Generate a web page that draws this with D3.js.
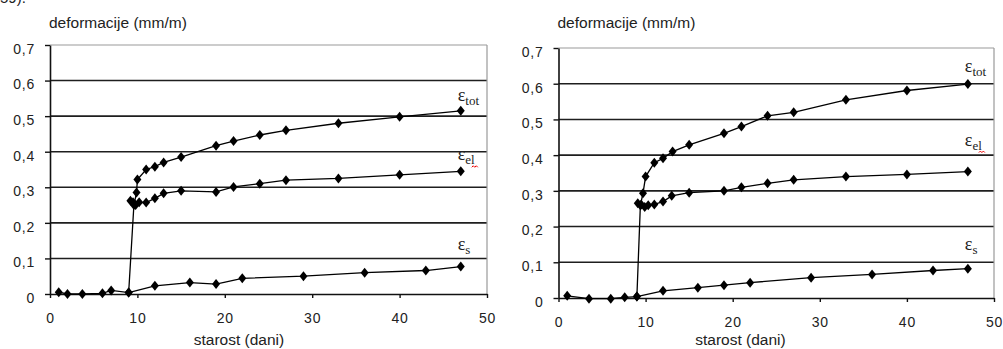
<!DOCTYPE html>
<html>
<head>
<meta charset="utf-8">
<script src="https://cdn.jsdelivr.net/npm/d3@7"></script>
<style>
  body { margin: 0; background: #fff; }
  svg { display: block; }
  text { font-family: "Liberation Sans", Arial, sans-serif; fill: #222; }
</style>
</head>
<body>
<div id="chart"></div>
<script>
// ticks
const xTicks = [0, 10, 20, 30, 40, 50];
const yTicks = [0, 0.1, 0.2, 0.3, 0.4, 0.5, 0.6, 0.7];

// left chart
const leftTotDays = [1, 2, 3.7, 6, 7, 9, 9.6, 9.9, 10, 11, 12, 13, 15, 19, 21, 24, 27, 33, 40, 47];
const leftTotVals = [0.005, 0, 0, 0.002, 0.01, 0.004, 0.25, 0.285, 0.322, 0.35, 0.358, 0.37, 0.385, 0.417, 0.43, 0.447, 0.46, 0.48, 0.498, 0.515];
const leftElDays = [9.2, 9.5, 9.8, 10.2, 11, 12, 13, 15, 19, 21, 24, 27, 33, 40, 47];
const leftElVals = [0.262, 0.258, 0.25, 0.258, 0.257, 0.269, 0.283, 0.29, 0.287, 0.301, 0.31, 0.32, 0.325, 0.335, 0.345];
const leftSDays = [9, 12, 16, 19, 22, 29, 36, 43, 47];
const leftSVals = [0.004, 0.023, 0.032, 0.028, 0.044, 0.05, 0.06, 0.066, 0.077];

// right chart
const rightTotDays = [1, 3.5, 6, 7.6, 9, 9.4, 9.7, 10, 11, 12, 13.1, 15, 19, 21, 24, 27, 33, 40, 47];
const rightTotVals = [0.006, -0.002, -0.002, 0.002, 0.004, 0.26, 0.293, 0.34, 0.379, 0.391, 0.41, 0.429, 0.461, 0.48, 0.51, 0.52, 0.555, 0.581, 0.599];
const rightElDays = [9.1, 9.5, 9.9, 10.3, 11, 12, 13, 15, 19, 21, 24, 27, 33, 40, 47];
const rightElVals = [0.265, 0.262, 0.255, 0.26, 0.262, 0.27, 0.286, 0.295, 0.3, 0.31, 0.321, 0.331, 0.34, 0.346, 0.354];
const rightSDays = [9, 12, 16, 19, 22, 29, 36, 43, 47];
const rightSVals = [0.004, 0.02, 0.029, 0.036, 0.043, 0.057, 0.066, 0.077, 0.082];

const width = 1003, height = 349;
const svg = d3.select("#chart").append("svg")
  .attr("width", width)
  .attr("height", height);

// caption text cut off at the very top, as in the scan
svg.append("text").attr("x", 0).attr("y", 3).style("font-size", "15px").text("59).");

const fmt = d => d === 0 ? "0" : d3.format(".1f")(d).replace(".", ",");
const diamond = "M0,-5L4,0L0,5L-4,0Z";

function drawChart(cfg) {
  const x = d3.scaleLinear().domain([0, 50]).range([cfg.x0, cfg.x1]);
  const y = d3.scaleLinear().domain([0, 0.7]).range([cfg.y0, cfg.y1]);
  const g = svg.append("g");

  // grid
  g.selectAll(".grid").data(yTicks.filter(v => v > 0 && v < 0.7)).enter()
    .append("line")
    .attr("x1", cfg.x0).attr("x2", cfg.x1)
    .attr("y1", d => y(d)).attr("y2", d => y(d))
    .attr("stroke", "#1e1e1e").attr("stroke-width", 1.6);
  g.append("line")
    .attr("x1", cfg.x0).attr("x2", cfg.x1)
    .attr("y1", y(0.7)).attr("y2", y(0.7))
    .attr("stroke", "#999").attr("stroke-width", 1.2);
  g.append("line")
    .attr("x1", cfg.x1).attr("x2", cfg.x1)
    .attr("y1", y(0.7)).attr("y2", y(0))
    .attr("stroke", "#999").attr("stroke-width", 1.2);

  // axes
  const ya = g.append("g").attr("transform", `translate(${cfg.x0},0)`)
    .call(d3.axisLeft(y).tickValues(yTicks).tickFormat(fmt).tickSize(5).tickSizeOuter(0).tickPadding(10));
  ya.selectAll("text").attr("dy", "0.6em").style("font-size", "14px").style("letter-spacing", "0.8px");
  const xa = g.append("g").attr("transform", `translate(0,${cfg.y0})`)
    .call(d3.axisBottom(x).tickValues(xTicks).tickFormat(d3.format("d")).tickSize(4).tickSizeOuter(0).tickPadding(15));
  xa.selectAll("text").style("font-size", "14px").style("letter-spacing", "0.8px");
  [ya, xa].forEach(a => {
    a.select(".domain").attr("stroke", "#111").attr("stroke-width", 1.6);
    a.selectAll(".tick line").attr("stroke", "#111").attr("stroke-width", 1.4);
  });

  g.append("text").attr("x", cfg.x0 - 1).attr("y", 28)
    .style("font-size", "15.5px").text("deformacije (mm/m)");
  g.append("text").attr("x", cfg.x0 + cfg.xTitle).attr("y", 345)
    .attr("text-anchor", "middle").style("font-size", "15.5px").text("starost (dani)");

  const line = d3.line().x(d => x(d[0])).y(d => y(d[1]));
  cfg.series.forEach(s => {
    const pts = s.days.map((d, i) => [d, s.vals[i]]);
    g.append("path").datum(pts).attr("d", line)
      .attr("fill", "none").attr("stroke", "#000").attr("stroke-width", 1.3);
    g.selectAll(null).data(pts).enter().append("path")
      .attr("d", diamond)
      .attr("transform", d => `translate(${x(d[0])},${y(d[1])})`)
      .attr("fill", "#000");
    const last = pts[pts.length - 1];
    const lx = x(last[0]) - 3, ly = y(last[1]) + s.dy;
    const t = g.append("text").attr("x", lx).attr("y", ly)
      .style("font-family", "'Liberation Serif', 'Times New Roman', serif");
    t.append("tspan").style("font-size", "18px").text("ε");
    t.append("tspan").attr("dy", 4).style("font-size", "13px").text(s.sub);
    if (s.sub === "el") {
      const bx = lx + 14, by = ly + 7;
      g.append("path")
        .attr("d", `M${bx},${by}l1.5,-1.5l1.5,1.5l1.5,-1.5l1.5,1.5`)
        .attr("fill", "none").attr("stroke", "#e00").attr("stroke-width", 1);
    }
  });
}

drawChart({
  x0: 50, x1: 487, y0: 294, y1: 45, xTitle: 189,
  series: [
    { days: leftTotDays, vals: leftTotVals, sub: "tot", dy: -10 },
    { days: leftElDays, vals: leftElVals, sub: "el", dy: -11 },
    { days: leftSDays, vals: leftSVals, sub: "s", dy: -17 }
  ]
});
drawChart({
  x0: 558.5, x1: 994, y0: 298, y1: 48, xTitle: 182,
  series: [
    { days: rightTotDays, vals: rightTotVals, sub: "tot", dy: -12 },
    { days: rightElDays, vals: rightElVals, sub: "el", dy: -26 },
    { days: rightSDays, vals: rightSVals, sub: "s", dy: -19 }
  ]
});
</script>
</body>
</html>
